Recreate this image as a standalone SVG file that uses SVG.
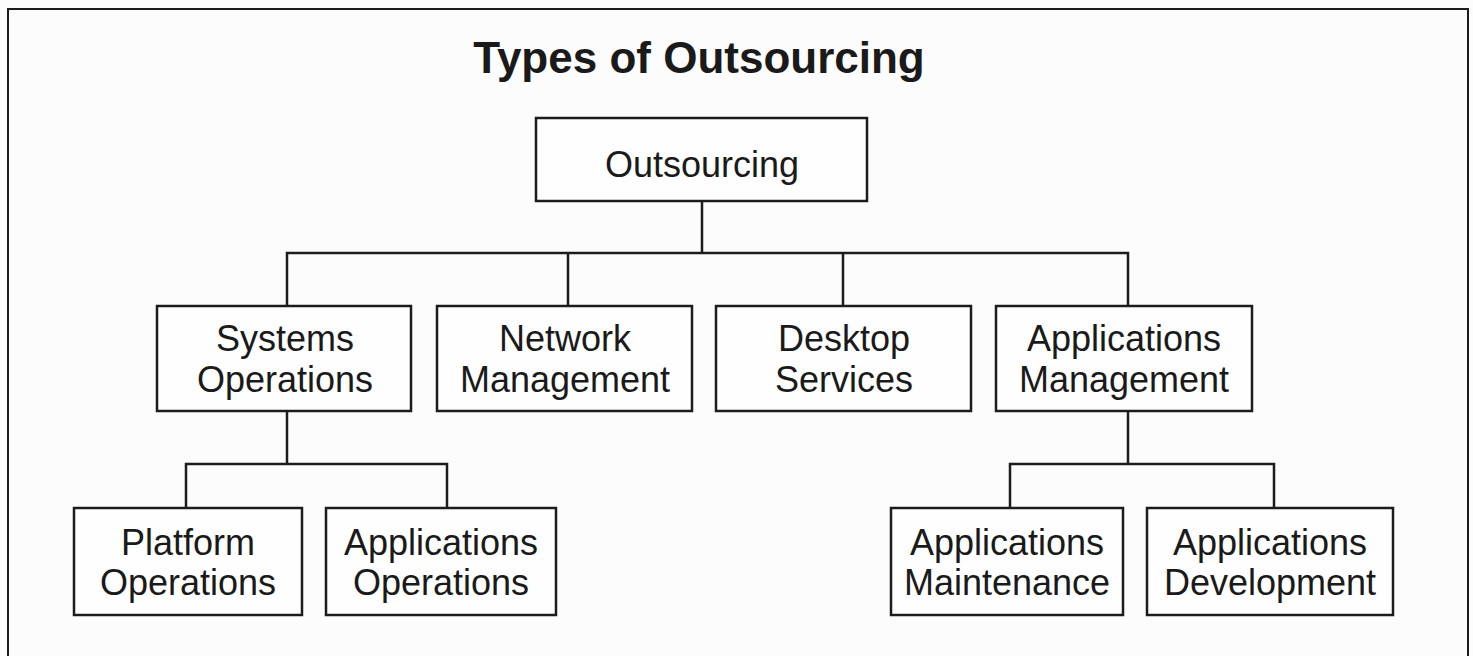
<svg xmlns="http://www.w3.org/2000/svg" width="1473" height="656" viewBox="0 0 1473 656">
<style>
.bx{fill:#fefefe;stroke:#1c1c1c;stroke-width:2.5}
.tx{font-family:"Liberation Sans",Arial,sans-serif;font-size:36px;fill:#1a1a1a;text-anchor:middle}
.ttl{font-family:"Liberation Sans",Arial,sans-serif;font-size:44px;font-weight:bold;fill:#1a1a1a;text-anchor:middle}
.ln{fill:none;stroke:#1c1c1c;stroke-width:2.5}
</style>
<rect x="0" y="0" width="1473" height="656" fill="#fcfcfc"/>
<path d="M8,656 V9 H1468 V656" fill="none" stroke="#1c1c1c" stroke-width="2"/>
<text class="ttl" x="699" y="73">Types of Outsourcing</text>
<g id="connectors">
<path class="ln" d="M702,201 V253"/>
<path class="ln" d="M287,306 V253 H1128 V306"/>
<path class="ln" d="M568,253 V306"/>
<path class="ln" d="M843,253 V306"/>
<path class="ln" d="M287,411 V464"/>
<path class="ln" d="M186,508 V464 H447 V508"/>
<path class="ln" d="M1128,411 V464"/>
<path class="ln" d="M1010,508 V464 H1274 V508"/>
</g>
<g id="outsourcing">
<rect class="bx" x="536" y="118" width="331" height="83"/>
<text class="tx" x="702" y="177">Outsourcing</text>
</g>
<g id="systems-operations">
<rect class="bx" x="157" y="306" width="254" height="105"/>
<text class="tx" x="285" y="351">Systems</text>
<text class="tx" x="285" y="392">Operations</text>
</g>
<g id="network-management">
<rect class="bx" x="437" y="306" width="255" height="105"/>
<text class="tx" x="565" y="351">Network</text>
<text class="tx" x="565" y="392">Management</text>
</g>
<g id="desktop-services">
<rect class="bx" x="716" y="306" width="255" height="105"/>
<text class="tx" x="844" y="351">Desktop</text>
<text class="tx" x="844" y="392">Services</text>
</g>
<g id="applications-management">
<rect class="bx" x="996" y="306" width="256" height="105"/>
<text class="tx" x="1124" y="351">Applications</text>
<text class="tx" x="1124" y="392">Management</text>
</g>
<g id="platform-operations">
<rect class="bx" x="74" y="508" width="228" height="107"/>
<text class="tx" x="188" y="555">Platform</text>
<text class="tx" x="188" y="595">Operations</text>
</g>
<g id="applications-operations">
<rect class="bx" x="326" y="508" width="230" height="107"/>
<text class="tx" x="441" y="555">Applications</text>
<text class="tx" x="441" y="595">Operations</text>
</g>
<g id="applications-maintenance">
<rect class="bx" x="891" y="508" width="232" height="107"/>
<text class="tx" x="1007" y="555">Applications</text>
<text class="tx" x="1007" y="595">Maintenance</text>
</g>
<g id="applications-development">
<rect class="bx" x="1147" y="508" width="246" height="107"/>
<text class="tx" x="1270" y="555">Applications</text>
<text class="tx" x="1270" y="595">Development</text>
</g>
</svg>
